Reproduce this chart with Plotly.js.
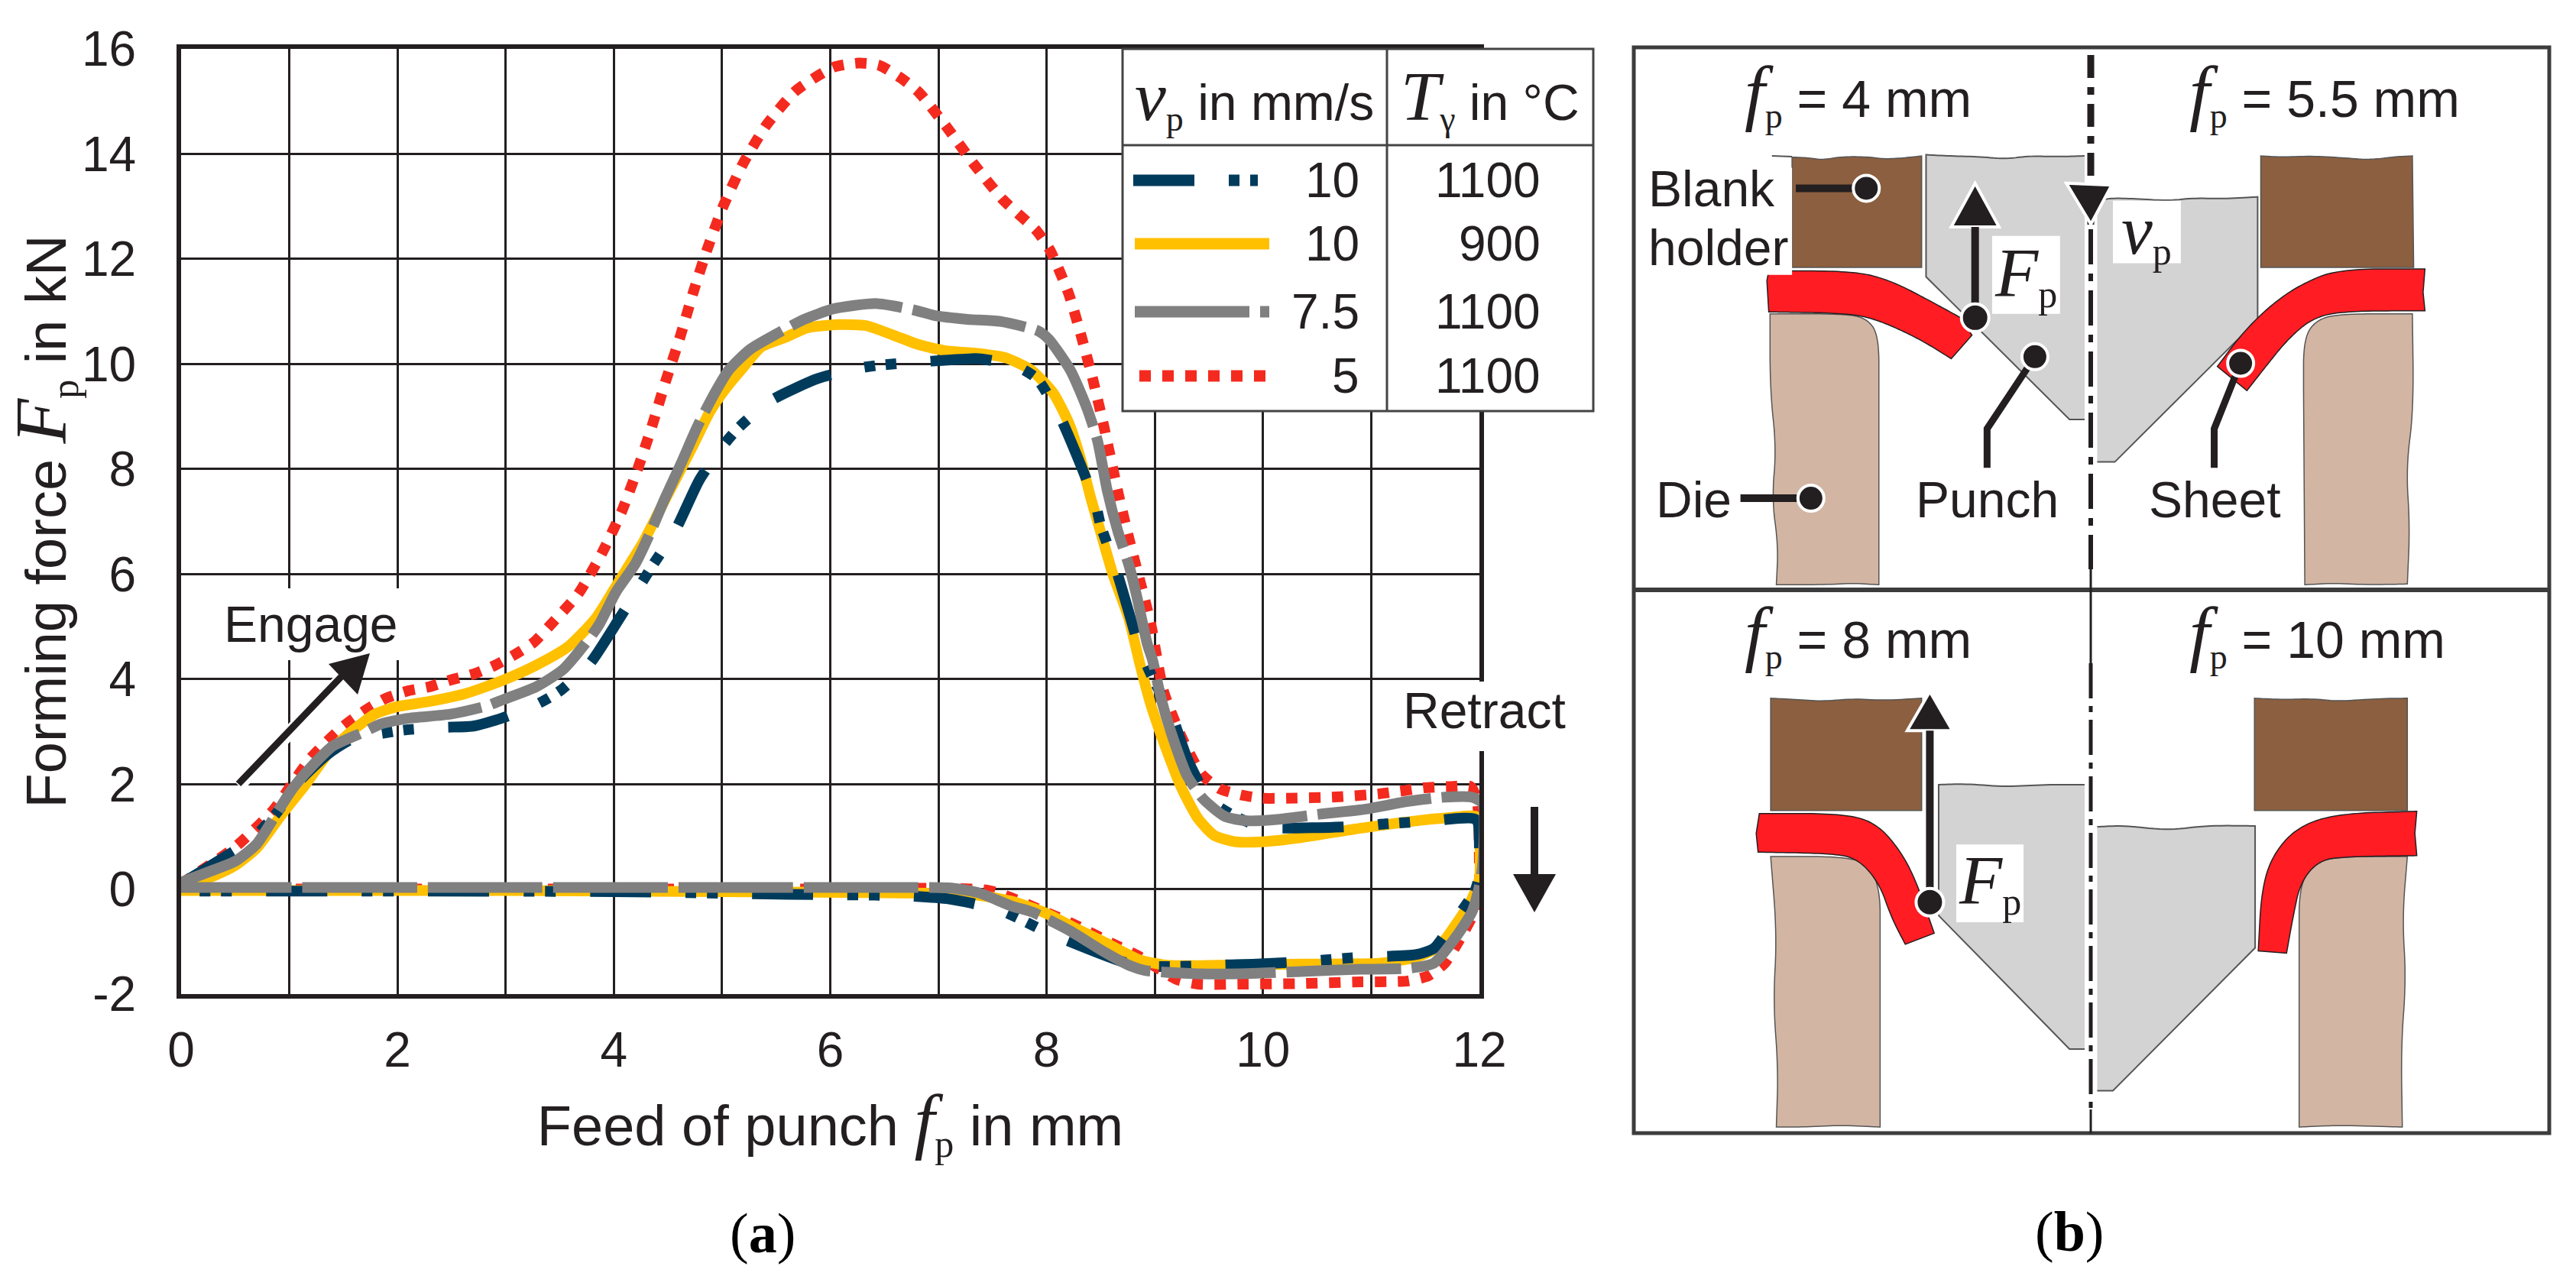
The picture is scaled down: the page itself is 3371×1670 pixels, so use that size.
<!DOCTYPE html>
<html><head><meta charset="utf-8">
<script src="https://cdn.plot.ly/plotly-3.0.1.min.js"></script>
<style>html,body{margin:0;padding:0;background:#fff}</style></head>
<body><div id="chart" style="width:3371px;height:1670px"></div>
<script>
const navyX=[0,0.41,0.65,0.88,1.1,1.35,1.6,1.84,2.07,2.44,2.69,2.96,3.3,3.5,3.78,4.05,4.25,4.36,4.57,4.79,5.0,5.15,5.44,5.88,6.26,6.47,6.85,7.37,7.72,7.91,8.12,8.31,8.45,8.5,8.63,8.76,8.86,8.98,9.16,9.3,9.5,9.7,9.99,10.52,10.92,11.13,11.51,11.97,12,12,11.96,11.73,11.58,11.41,11.03,10.83,10.45,9.94,9.55,9.34,8.81,8.12,7.94,7.57,7.1,6.7,6.13,5.6,4,2,0];
const navyY=[0.1,0.62,0.94,1.44,2.07,2.56,2.88,2.96,3.03,3.08,3.1,3.25,3.53,3.77,4.3,5.15,5.81,6.17,6.84,7.79,8.42,8.78,9.29,9.72,9.92,9.98,10.04,10.1,9.96,9.72,9.01,8.1,7.35,6.92,6.17,5.27,4.58,4.02,3.29,2.48,1.71,1.43,1.18,1.17,1.2,1.24,1.29,1.32,0.78,0.29,-0.03,-0.72,-1.13,-1.25,-1.29,-1.31,-1.37,-1.43,-1.45,-1.47,-1.45,-0.92,-0.76,-0.4,-0.19,-0.13,-0.11,-0.1,-0.05,-0.04,-0.04];
const yellowX=[0,0.3,0.5,0.7,0.93,1.15,1.35,1.55,1.79,1.99,2.29,2.64,2.98,3.28,3.58,3.83,4.0,4.12,4.27,4.42,4.57,4.72,4.89,5.04,5.19,5.36,5.59,5.79,6.08,6.33,6.58,6.83,7.07,7.37,7.62,7.86,8.06,8.21,8.31,8.41,8.51,8.61,8.76,8.86,8.96,9.11,9.25,9.4,9.55,9.75,9.99,10.35,10.84,11.34,11.73,11.97,12,12,11.93,11.78,11.63,11.43,11.09,10.35,9.6,9.11,8.86,8.56,8.24,7.97,7.67,7.37,6.88,5,3,0];
const yellowY=[0.05,0.25,0.45,0.78,1.42,1.99,2.56,2.96,3.33,3.47,3.57,3.73,3.98,4.26,4.62,5.15,5.7,6.1,6.6,7.2,7.8,8.4,9.1,9.55,9.92,10.32,10.51,10.69,10.75,10.73,10.55,10.36,10.25,10.2,10.12,9.88,9.45,8.85,8.22,7.43,6.72,6.01,5.15,4.3,3.53,2.64,1.91,1.34,1.02,0.9,0.9,0.98,1.14,1.28,1.36,1.38,1.1,0.2,-0.19,-0.68,-1.09,-1.29,-1.41,-1.43,-1.45,-1.45,-1.35,-1.04,-0.72,-0.44,-0.23,-0.12,-0.08,-0.05,-0.03,-0.03];
const grayX=[0,0.31,0.5,0.7,0.9,1.03,1.2,1.4,1.7,1.84,2.09,2.49,2.83,2.98,3.28,3.53,3.78,3.87,4.02,4.2,4.35,4.47,4.62,4.77,4.92,5.06,5.26,5.59,5.76,6.03,6.42,6.77,6.97,7.27,7.57,7.92,8.02,8.22,8.37,8.47,8.56,8.66,8.76,8.83,8.93,8.98,9.06,9.18,9.3,9.45,9.65,9.85,10.15,10.54,10.94,11.34,11.68,11.93,12.03,12.03,11.99,11.93,11.78,11.58,11.34,10.84,10.35,9.85,9.35,8.91,8.76,8.51,8.22,7.87,7.67,7.37,7.12,6.63,5,3,1,0];
const grayY=[0.13,0.37,0.53,0.86,1.5,1.91,2.32,2.72,3.0,3.14,3.25,3.33,3.49,3.61,3.85,4.18,4.79,5.06,5.66,6.2,6.85,7.43,8.1,8.8,9.4,9.88,10.28,10.67,10.85,11.05,11.15,11.03,10.92,10.85,10.81,10.63,10.47,9.88,9.17,8.54,7.59,6.8,6.17,5.6,4.67,4.35,3.61,2.8,2.15,1.71,1.38,1.3,1.33,1.43,1.52,1.67,1.75,1.75,1.63,0.45,-0.03,-0.44,-0.92,-1.41,-1.51,-1.53,-1.57,-1.61,-1.61,-1.55,-1.45,-1.17,-0.8,-0.44,-0.32,-0.07,0.02,0.03,0.03,0.03,0.03,0.03];
const redX=[0,0.5,0.85,1.2,1.5,1.7,1.89,2.09,2.29,2.49,2.71,2.9,3.08,3.26,3.4,3.67,3.89,4.07,4.22,4.35,4.48,4.61,4.73,4.86,5.01,5.19,5.41,5.68,6.03,6.26,6.45,6.65,6.82,7.08,7.33,7.6,7.91,8.03,8.2,8.32,8.43,8.53,8.66,8.76,8.96,9.08,9.25,9.43,9.6,9.8,9.99,10.22,10.64,11.06,11.29,11.49,11.71,11.92,11.98,12,12,11.96,11.83,11.68,11.53,11.34,10.84,10.35,9.85,9.4,9.2,8.86,8.61,8.26,7.97,7.47,6,3,0];
const redY=[0.1,0.8,1.5,2.5,3.1,3.4,3.63,3.77,3.85,3.98,4.1,4.26,4.46,4.7,5.0,5.62,6.4,7.18,8.0,8.8,9.68,10.5,11.34,12.17,13.0,13.8,14.55,15.2,15.65,15.73,15.69,15.45,15.17,14.5,13.8,13.12,12.53,12.17,11.36,10.53,9.68,8.8,7.55,6.68,5.07,3.77,2.88,2.19,1.91,1.79,1.73,1.73,1.75,1.81,1.87,1.93,1.95,1.95,1.67,0.45,0.05,-0.4,-0.92,-1.41,-1.65,-1.75,-1.77,-1.8,-1.81,-1.81,-1.72,-1.29,-1.04,-0.68,-0.42,-0.03,0,0,0];

const xTickVals=[0,1,2,3,4,5,6,7,8,9,10,11,12];
const xTickText=['0','','2','','4','','6','','8','','10','','12'];
const yTickVals=[-2,0,2,4,6,8,10,12,14,16];
const yTickText=['-2','0','2','4','6','8','10','12','14','16'];
const speedLabels=['10','10','7.5','5'];
const tempLabels=['1100','900','1100','1100'];
const seriesColors=['#003B5C','#FFC000','#808080','#F42A1F'];
const seriesDash=['80px,45px,14px,14px,14px,45px','solid','150px,14px','15px,15px'];

const W=3371,H=1670,INK='#231F20',SANS='Liberation Sans, Arial, sans-serif',SERIF='Liberation Serif, serif';
const px=x=>x/W, py=y=>1-y/H;
const serifI=(t,s)=>`<span style="font-family:'Liberation Serif';font-style:italic;font-size:${s}px">${t}</span>`;
const sub=(t,s)=>`<sub><span style="font-family:'Liberation Serif';font-size:${s}px">${t}</span></sub>`;
const shapes=[],ann=[];
function pathOf(pts,closed){return 'M'+pts.map(p=>px(p[0]).toFixed(5)+' '+py(p[1]).toFixed(5)).join(' L')+(closed?' Z':'');}
function poly(pts,fill,line,w){shapes.push({type:'path',xref:'paper',yref:'paper',layer:'above',path:pathOf(pts,true),fillcolor:fill,line:{color:line||fill,width:line?(w||2):0}});}
function pline(pts,color,w,dash){shapes.push({type:'path',xref:'paper',yref:'paper',layer:'above',path:pathOf(pts,false),fillcolor:'rgba(0,0,0,0)',line:{color:color,width:w,dash:dash||'solid'}});}
function rect(x0,y0,x1,y1,fill,line,w){shapes.push({type:'rect',xref:'paper',yref:'paper',layer:'above',x0:px(x0),x1:px(x1),y0:py(y0),y1:py(y1),fillcolor:fill,line:{color:line||fill,width:line?w:0}});}
function circ(x,y,r,halo){shapes.push({type:'circle',xref:'paper',yref:'paper',layer:'above',x0:px(x-r),x1:px(x+r),y0:py(y-r),y1:py(y+r),fillcolor:INK,line:{color:'#fff',width:halo||4}});}
function txt(x,y,text,size,anchor,extra){ann.push(Object.assign({xref:'paper',yref:'paper',x:px(x),y:py(y),text:text,showarrow:false,xanchor:anchor||'center',yanchor:'middle',font:{family:SANS,size:size,color:INK},borderpad:0},extra||{}));}
/* corner-cutting for the hand-drawn outlines of the schematic */
function soft(a,n){let p=a;for(let k=0;k<(n||3);k++){const q=[p[0]];for(let i=0;i<p.length-1;i++){q.push([.75*p[i][0]+.25*p[i+1][0],.75*p[i][1]+.25*p[i+1][1]]);q.push([.25*p[i][0]+.75*p[i+1][0],.25*p[i][1]+.75*p[i+1][1]]);}q.push(p[p.length-1]);p=q;}return p;}

/* Engage / Retract notes */
rect(290,770,530,864,'#fff');
txt(407,817,'Engage',66);
pline([[312,1028],[455,880]],'#fff',18);
pline([[312,1026],[452,880]],INK,9);
poly([[484,855],[430,869],[468,909]],INK);
rect(1825,892,2065,983,'#fff');
txt(1942,930,'Retract',66);
pline([[2008,1056],[2008,1150]],INK,10);
poly([[1980,1144],[2036,1144],[2008,1194]],INK);

/* table */
rect(1469,64,2085,538,'#fff','#444',3);
pline([[1469,190],[2085,190]],'#444',3);
pline([[1815,64],[1815,538]],'#444',3);
txt(1641,128,serifI('v',92)+sub('p',46)+' in mm/s',66);
txt(1950,128,serifI('T',92)+sub('γ',46)+' in °C',66);
const rowY=[236,319,408,492];
const rowStart=[1483,1485,1485,1491], rowEnd=[1646,1661,1661,1658];
speedLabels.forEach((s,i)=>{
  txt(1780,rowY[i],s,64,'right');
  txt(2017,rowY[i],tempLabels[i],64,'right');
  pline([[rowStart[i],rowY[i]],[rowEnd[i],rowY[i]]],seriesColors[i],15,seriesDash[i]);
});

/* schematic (b): geometry in the frame of the drawing */
const BRW='#8B5F3F',TAN='#D2B5A3',RED='#FF1C23',STL='#D3D3D3',EDGE='#555';
const X=z=>2080+z/1.2146, YT=z=>z/1.96, YB=z=>760+z/1.723;
const T=a=>a.map(p=>[X(p[0]),YT(p[1])]), B=a=>a.map(p=>[X(p[0]),YB(p[1])]);
const wave=a=>soft(a,3);
/* top row */
poly(T([...wave([[322,403],[350,405],[370,410],[400,402],[440,402],[470,408],[500,405],[528,400]]),[528,686],[322,686]]),BRW,EDGE,1.5);
pline(T([[290,400],[322,402]]),EDGE,2);
const pTL=[...wave([[787,400],[740,402],[700,400],[660,408],[620,402],[570,400],[535,397]]),[535,710],[763,1076],[787,1076]];
poly(T(pTL),STL); pline(T(pTL),EDGE,2);
const pTR=[...wave([[807,515],[830,508],[870,510],[920,515],[960,508],[1010,510],[1062,505]]),[1062,820],[835,1185],[807,1185]];
poly(T(pTR),STL); pline(T(pTR),EDGE,2);
poly(T([...wave([[1067,400],[1100,403],[1150,400],[1200,405],[1240,410],[1280,402],[1308,400]]),[1310,686],[1067,686]]),BRW,EDGE,1.5);
poly(T([...soft([[287,805],[400,805],[440,815],[460,860],[460,1000]],4),[460,1500],...wave([[460,1500],[420,1496],[370,1500],[297,1500]]),...wave([[297,1500],[300,1400],[290,1280],[297,1150],[287,1000],[287,805]])]),TAN,EDGE,1.5);
poly(T([...soft([[1308,805],[1195,805],[1155,820],[1135,870],[1135,1000]],4),[1137,1500],...wave([[1137,1500],[1180,1496],[1240,1500],[1300,1498]]),...wave([[1300,1498],[1304,1350],[1298,1200],[1310,1050],[1308,805]])]),TAN,EDGE,1.5);
poly(T([[282,720],...soft([[285,695],[420,695],[480,720],[545,775],[590,815]],4),[608,860],[575,920],...soft([[575,920],[520,865],[450,815],[400,803],[285,800]],4)]),RED,INK,1.5);
poly(T([...soft([[1328,690],[1190,690],[1130,730],[1085,780],[1040,850],[998,940]],4),[1045,1002],...soft([[1045,1002],[1075,940],[1110,870],[1150,815],[1200,798],[1328,797]],4),[1325,750]]),RED,INK,1.5);
/* bottom row */
poly(B([...wave([[288,265],[330,268],[370,272],[420,266],[470,270],[528,265]]),[528,518],[288,518]]),BRW,EDGE,1.5);
poly(B([...wave([[1057,265],[1100,268],[1150,266],[1190,272],[1250,266],[1300,265]]),[1300,518],[1057,518]]),BRW,EDGE,1.5);
const pBL=[...wave([[787,460],[720,460],[660,465],[600,458],[555,460]]),[555,755],[763,1056],[787,1056]];
poly(B(pBL),STL); pline(B(pBL),EDGE,2);
const pBR=[...wave([[807,555],[850,552],[920,563],[980,552],[1058,553]]),[1058,828],[832,1150],[807,1150]];
poly(B(pBR),STL); pline(B(pBR),EDGE,2);
poly(B([...soft([[288,622],[405,622],[445,640],[462,700],[462,800]],4),[462,1232],...wave([[462,1232],[400,1228],[340,1232],[297,1232]]),...wave([[297,1232],[300,1100],[292,950],[298,800],[288,622]])]),TAN,EDGE,1.5);
poly(B([...soft([[1300,622],[1185,622],[1145,640],[1128,700],[1128,800]],4),[1128,1232],...wave([[1128,1232],[1190,1228],[1292,1232]]),...wave([[1292,1232],[1290,1050],[1298,900],[1292,760],[1300,622]])]),TAN,EDGE,1.5);
poly(B([...soft([[270,525],[400,525],[455,545],[495,610],[520,680],[548,795]],4),[502,820],...soft([[502,820],[480,760],[460,680],[425,625],[380,615],[268,612]],4),[265,570]]),RED,INK,1.5);
poly(B([...soft([[1315,520],[1190,525],[1125,555],[1085,620],[1068,700],[1063,835]],4),[1108,840],...soft([[1108,840],[1118,760],[1130,680],[1160,630],[1205,622],[1315,620]],4),[1312,570]]),RED,INK,1.5);
/* frame */
rect(2138,62,3336,1483,'rgba(0,0,0,0)','#3C3C3C',5);
pline([[2138,772],[3336,772]],'#3C3C3C',6);
pline([[2736,72],[2736,300]],INK,9,'30px,12px,10px,12px');
pline([[2736,300],[2736,745]],INK,6,'46px,12px,10px,12px');
pline([[2736,745],[2736,772]],INK,3);
pline([[2736,772],[2736,868]],INK,3);
pline([[2736,868],[2736,1452]],INK,5,'46px,10px,8px,10px');
pline([[2736,1452],[2736,1483]],INK,3);
/* callouts */
rect(X(90),YT(430),X(322),YT(705),'#fff');
txt(X(92),YT(484),'Blank',66,'left');
txt(X(92),YT(636),'holder',66,'left');
pline([[X(328),YT(483)],[X(430),YT(483)]],INK,10);
circ(X(440),YT(483),17);
txt(X(105),YT(1282),'Die',66,'left');
pline([[X(240),YT(1278)],[X(345),YT(1278)]],INK,10);
circ(X(352),YT(1278),17);
txt(X(518),YT(1282),'Punch',66,'left');
pline(T([[708,915],[632,1100],[632,1200]]),INK,9);
circ(X(708),YT(915),17);
txt(X(888),YT(1282),'Sheet',66,'left');
pline(T([[1035,930],[993,1100],[993,1200]]),INK,9);
circ(X(1035),YT(932),17);
/* force arrows */
function up(tr,xz,tipz,basez,endz,halfz){
  poly(tr([[xz,tipz],[xz-halfz,basez],[xz+halfz,basez]]),INK,'#fff',4);
  pline(tr([[xz,basez],[xz,endz]]),INK,10);
  circ(X(xz),tr([[xz,endz]])[0][1],18);
}
up(T,613,470,582,815,38);
up(B,541,250,338,725,36);
poly(T([[758,470],[830,475],[797,575]]),INK,'#fff',4);
rect(X(640),YT(605),X(748),YT(805),'#fff');
txt(X(694),YT(705),serifI('F',92)+sub('p',50),66);
rect(X(832),YT(515),X(940),YT(675),'#fff');
txt(X(886),YT(595),serifI('v',92)+sub('p',50),66);
rect(X(583),YB(595),X(690),YB(770),'#fff');
txt(X(636),YB(680),serifI('F',92)+sub('p',50),66);
/* panel captions */
const fpCap=serifI('f',96)+sub('p',46);
txt(X(245),YT(240),fpCap+' = 4 mm',68,'left');
txt(X(952),YT(240),fpCap+' = 5.5 mm',68,'left');
txt(X(245),YB(120),fpCap+' = 8 mm',68,'left');
txt(X(952),YB(120),fpCap+' = 10 mm',68,'left');
/* sub-figure tags */
txt(998,1614,`(<b>a</b>)`,74,'center',{font:{family:SERIF,size:74,color:'#000'}});
txt(2708,1612,`(<b>b</b>)`,74,'center',{font:{family:SERIF,size:74,color:'#000'}});

const mk=(x,y,i)=>({type:'scatter',mode:'lines',x:x,y:y,cliponaxis:false,hoverinfo:'skip',line:{color:seriesColors[i],width:14,dash:seriesDash[i],shape:'spline',smoothing:0.6}});
const traces=[mk(redX,redY,3),mk(yellowX,yellowY,1),mk(navyX,navyY,0),mk(grayX,grayY,2)];
const axisBase={layer:'below traces',showline:true,mirror:true,linecolor:INK,linewidth:6,showgrid:true,gridcolor:INK,gridwidth:3,zeroline:false,ticks:'outside',tickcolor:'rgba(0,0,0,0)',tickfont:{family:SANS,size:64,color:INK},tickangle:0};
const layout={width:W,height:H,showlegend:false,paper_bgcolor:'#fff',plot_bgcolor:'#fff',margin:{l:0,r:0,t:0,b:0,pad:0},
 xaxis:Object.assign({},axisBase,{ticklen:12,domain:[237/W,1936/W],range:[0,12],tickmode:'array',tickvals:xTickVals,ticktext:xTickText,
   title:{text:'Feed of punch '+serifI('f',96)+sub('p',50)+' in mm',font:{family:SANS,size:74,color:INK},standoff:40}}),
 yaxis:Object.assign({},axisBase,{ticklen:40,domain:[1-1301/H,1-64/H],range:[-2,16],tickmode:'array',tickvals:yTickVals,ticktext:yTickText,
   title:{text:'Forming force '+serifI('F',96)+sub('p',50)+' in kN',font:{family:SANS,size:74,color:INK},standoff:6}}),
 shapes:shapes,annotations:ann};
Plotly.newPlot('chart',traces,layout,{displayModeBar:false,staticPlot:true});
</script></body></html>
